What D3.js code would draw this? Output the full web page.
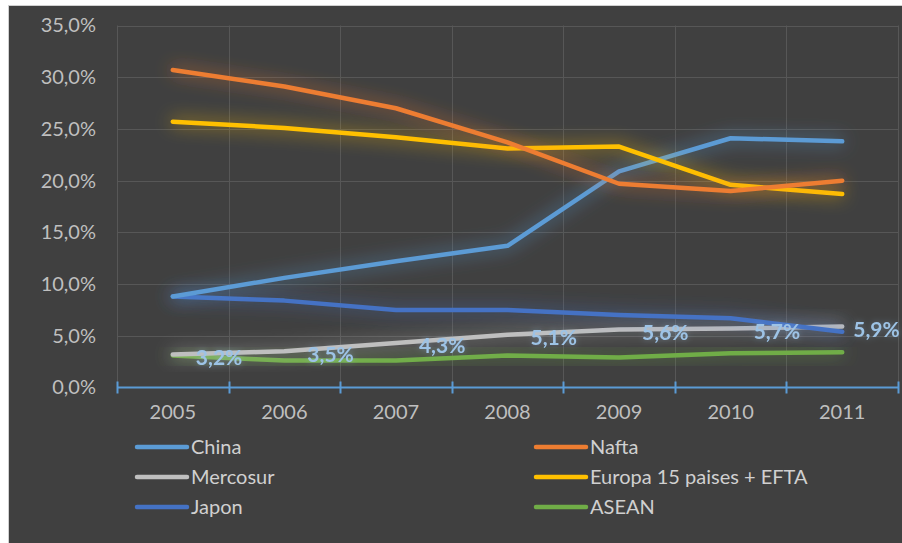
<!DOCTYPE html>
<html><head><meta charset="utf-8">
<script src="https://cdn.jsdelivr.net/npm/d3@7"></script>
<style>
html,body{margin:0;padding:0;background:#ffffff;}
svg{display:block;}
text{font-family:"Lato","Open Sans",sans-serif;}
</style></head>
<body><div id="chart"></div>
<script>
const years = ["2005","2006","2007","2008","2009","2010","2011"];
const china    = [8.8, 10.6, 12.2, 13.7, 20.9, 24.1, 23.8];
const nafta    = [30.7, 29.1, 27.0, 23.7, 19.7, 19.0, 20.0];
const mercosur = [3.2, 3.5, 4.3, 5.1, 5.6, 5.7, 5.9];
const europa   = [25.7, 25.1, 24.2, 23.1, 23.3, 19.6, 18.7];
const japon    = [8.8, 8.4, 7.5, 7.5, 7.0, 6.7, 5.4];
const asean    = [3.1, 2.6, 2.6, 3.1, 2.9, 3.3, 3.4];
const yTicks   = [0, 5, 10, 15, 20, 25, 30, 35];
const mercosurLabels = ["3,2%","3,5%","4,3%","5,1%","5,6%","5,7%","5,9%"];

const series = [
  {name:"China", values:china, color:"#5B9BD5"},
  {name:"Nafta", values:nafta, color:"#ED7D31"},
  {name:"Mercosur", values:mercosur, color:"#BFBFBF"},
  {name:"Europa 15 paises + EFTA", values:europa, color:"#FFC000"},
  {name:"Japon", values:japon, color:"#4472C4"},
  {name:"ASEAN", values:asean, color:"#70AD47"}
];
// drawing order (back to front)
const drawOrder = ["ASEAN","Mercosur","Japon","China","Europa 15 paises + EFTA","Nafta"];

const W = 902, H = 543;
const svg = d3.select("#chart").append("svg").attr("width", W).attr("height", H);

const defs = svg.append("defs");
const glow = defs.append("filter").attr("id","glow").attr("x","-20%").attr("y","-60%").attr("width","140%").attr("height","220%");
glow.append("feGaussianBlur").attr("in","SourceGraphic").attr("stdDeviation",9).attr("result","b");
glow.append("feComponentTransfer").attr("in","b").attr("result","b2")
  .append("feFuncA").attr("type","linear").attr("slope",0.85);
const m = glow.append("feMerge");
m.append("feMergeNode").attr("in","b2");
m.append("feMergeNode").attr("in","SourceGraphic");

const tglow = defs.append("filter").attr("id","tglow").attr("x","-30%").attr("y","-50%").attr("width","160%").attr("height","200%");
tglow.append("feGaussianBlur").attr("in","SourceGraphic").attr("stdDeviation",3).attr("result","b");
tglow.append("feComponentTransfer").attr("in","b").attr("result","b2")
  .append("feFuncA").attr("type","linear").attr("slope",0.4);
const m2 = tglow.append("feMerge");
m2.append("feMergeNode").attr("in","b2");
m2.append("feMergeNode").attr("in","SourceGraphic");

// background
svg.append("rect").attr("x",0).attr("y",0).attr("width",W).attr("height",H).attr("fill","#ffffff");
svg.append("rect").attr("x",8.5).attr("y",5.5).attr("width",W).attr("height",H).attr("fill","#404040").attr("stroke","#d0d0d0").attr("stroke-width",1);

const plotL = 117, plotR = 898, plotT = 25.5, plotB = 387.5;
const x = d3.scaleBand().domain(years).range([plotL, plotR]);
const y = d3.scaleLinear().domain([0, 35]).range([plotB, plotT]);

// gridlines
const grid = svg.append("g");
grid.selectAll("line.h").data(yTicks.filter(d=>d>0)).enter().append("line")
  .attr("x1",plotL).attr("x2",plotR).attr("y1",d=>Math.round(y(d))+0.5).attr("y2",d=>Math.round(y(d))+0.5)
  .attr("stroke","#575757").attr("stroke-width",1);
const bounds = years.map(d=>x(d)).concat([plotR]);
grid.selectAll("line.v").data(bounds).enter().append("line")
  .attr("x1",d=>Math.round(d)+0.5).attr("x2",d=>Math.round(d)+0.5).attr("y1",plotT).attr("y2",plotB)
  .attr("stroke","#575757").attr("stroke-width",1);

// y axis labels
const yAxis = d3.axisLeft(y).tickValues(yTicks).tickSize(0).tickPadding(0)
  .tickFormat(d => d.toFixed(1).replace(".", ",") + "%");
const yg = svg.append("g").attr("transform",`translate(96,0)`).call(yAxis);
yg.select(".domain").remove();
yg.selectAll("text").attr("fill","#BFBFBF").attr("font-size","20px");

// x axis
const xAxis = d3.axisBottom(x).tickSize(0).tickPadding(17);
const xg = svg.append("g").attr("transform",`translate(0,${plotB})`).call(xAxis);
xg.select(".domain").remove();
xg.selectAll("text").attr("fill","#BFBFBF").attr("font-size","20px");
svg.append("line").attr("x1",plotL).attr("x2",plotR).attr("y1",plotB).attr("y2",plotB)
  .attr("stroke","#5B9BD5").attr("stroke-width",2);
svg.selectAll("line.tick").data(bounds).enter().append("line")
  .attr("x1",d=>Math.round(d)+0.5).attr("x2",d=>Math.round(d)+0.5).attr("y1",plotB-6).attr("y2",plotB+6)
  .attr("stroke","#5B9BD5").attr("stroke-width",2);

// lines
const line = d3.line().x((d,i)=>x(years[i]) + x.bandwidth()/2).y(d=>y(d));
const lg = svg.append("g");
drawOrder.forEach(n=>{
  const s = series.find(t=>t.name===n);
  lg.append("path").attr("d", line(s.values)).attr("fill","none")
    .attr("stroke", s.color).attr("stroke-width",4.5).attr("stroke-linecap","round").attr("stroke-linejoin","round")
    .attr("filter","url(#glow)");
});

// Mercosur data labels
const labG = svg.append("g");
mercosur.forEach((v,i)=>{
  const cx = x(years[i]) + x.bandwidth()/2;
  const tx = i === years.length-1 ? Math.min(cx + 11, W - 48) : cx + 23;
  labG.append("text").attr("x", tx).attr("y", y(v) + 3).attr("dy","0.35em")
    .attr("fill","#9DC3E6").attr("font-size","21px").attr("font-weight","bold")
    .attr("filter","url(#tglow)")
    .text(mercosurLabels[i]);
});

// legend
const legendItems = [
  {s:"China", col:0, row:0}, {s:"Nafta", col:1, row:0},
  {s:"Mercosur", col:0, row:1}, {s:"Europa 15 paises + EFTA", col:1, row:1},
  {s:"Japon", col:0, row:2}, {s:"ASEAN", col:1, row:2}
];
const colX = [137, 536];
const rowY = [447, 477, 507];
const leg = svg.append("g");
legendItems.forEach(it=>{
  const s = series.find(t=>t.name===it.s);
  const gx = colX[it.col], gy = rowY[it.row];
  leg.append("line").attr("x1",gx).attr("x2",gx+50).attr("y1",gy).attr("y2",gy)
    .attr("stroke",s.color).attr("stroke-width",4.5).attr("stroke-linecap","round");
  leg.append("text").attr("x",gx+54).attr("y",gy).attr("dy","0.35em")
    .attr("fill","#D0D0D0").attr("font-size","20px").text(s.name);
});
</script>
</body></html>
